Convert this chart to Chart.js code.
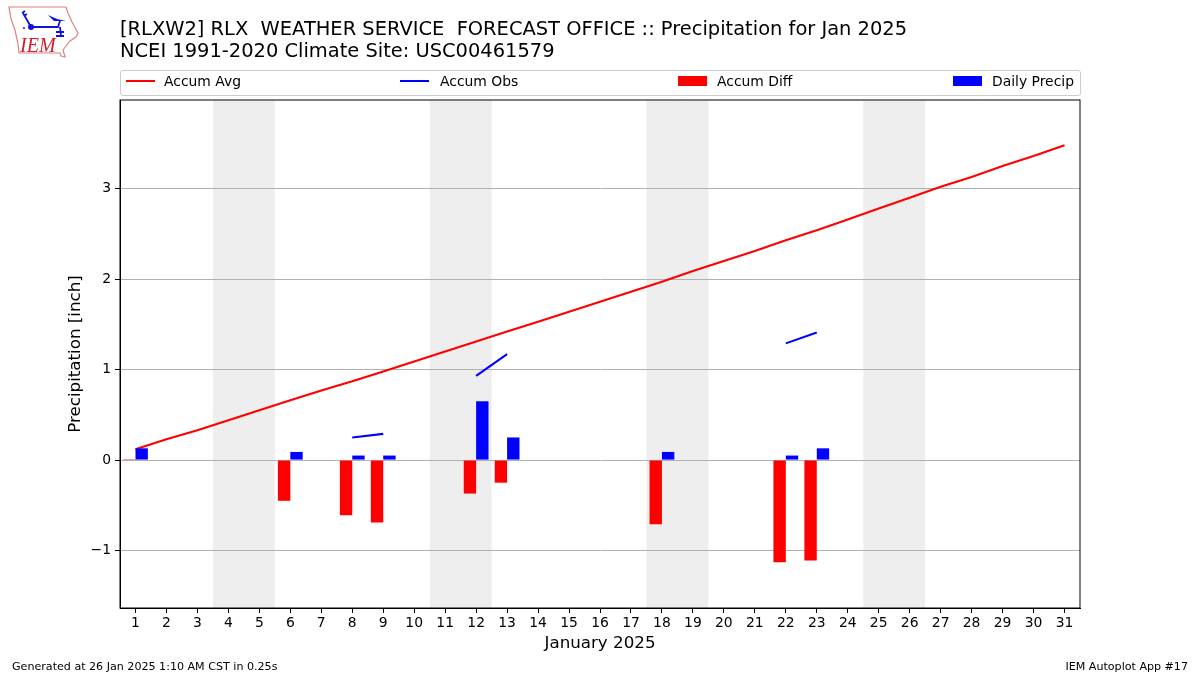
<!DOCTYPE html>
<html>
<head>
<meta charset="utf-8">
<script src="https://cdn.jsdelivr.net/npm/chart.js@4"></script>
<style>
body{margin:0;background:#fff;font-family:"DejaVu Sans",sans-serif;color:#000;}
#wrap{position:relative;width:1200px;height:675px;overflow:hidden;}
#myChart{position:absolute;left:0;top:0;}
.txt{position:absolute;white-space:pre;}
#legend{position:absolute;left:120px;top:70px;width:959px;height:24px;border:1px solid #ccc;border-radius:3px;}
#legend span{position:absolute;}
</style>
</head>
<body>
<div id="wrap">
<canvas id="myChart" width="1200" height="675"></canvas>
<svg style="position:absolute;left:0;top:0" width="90" height="65">
  <path d="M9 7 L66 7 L68 13 L72 22 L78 33 L76 37 L70 41 L66 46 L63 50 L65 57 L61 56 L60 53 L19 53 L18 44 L15 30 L11 19 Z" fill="none" stroke="#e08080" stroke-width="1.2"/>
  <path d="M31 27 L58 27 L60 21 M60 27 L61 36 M23 13 L31 27 M22 13 L25 11 M24 16 L27 14 M56 32 L64 32 M56 36 L64 36" stroke="#1010e0" stroke-width="1.8" fill="none"/>
  <circle cx="31" cy="27" r="3" fill="#1010e0"/>
  <circle cx="24" cy="28" r="1" fill="#1010e0"/>
  <path d="M48 15 L57 19 L66 21 L54 21 Z" fill="#1010e0"/>
  <text x="20" y="52" font-family="Liberation Serif" font-style="italic" font-size="20" fill="#d02030">IEM</text>
</svg>
<div class="txt" style="left:120px;top:18px;font-size:19.44px;line-height:21.5px;">[RLXW2] RLX  WEATHER SERVICE  FORECAST OFFICE :: Precipitation for Jan 2025
NCEI 1991-2020 Climate Site: USC00461579</div>
<div id="legend"></div>
<div class="txt" style="left:12px;top:660px;font-size:11.1px;">Generated at 26 Jan 2025 1:10 AM CST in 0.25s</div>
<div class="txt" style="right:12px;top:660px;font-size:11.1px;">IEM Autoplot App #17</div>
</div>
<script>
let dias=["1","2","3","4","5","6","7","8","9","10","11","12","13","14","15","16","17","18","19","20","21","22","23","24","25","26","27","28","29","30","31"];

let accumAvg=[0.12,0.23,0.33,0.44,0.55,0.66,0.77,0.87,0.98,1.09,1.20,1.31,1.42,1.53,1.64,1.75,1.86,1.97,2.09,2.20,2.31,2.43,2.54,2.66,2.78,2.90,3.02,3.13,3.25,3.36,3.48];
let accumObs=[0.12,null,null,null,null,0.20,null,0.25,0.29,null,null,0.93,1.17,null,null,null,null,1.24,null,null,null,1.29,1.41,null,null,null,null,null,null,null,null];
let accumDiff=[0.01,null,null,null,null,-0.45,null,-0.61,-0.69,null,null,-0.37,-0.25,null,null,null,null,-0.71,null,null,null,-1.13,-1.11,null,null,null,null,null,null,null,null];
let dailyPrecip=[0.13,null,null,null,null,0.09,null,0.05,0.05,null,null,0.65,0.25,null,null,null,null,0.09,null,null,null,0.05,0.13,null,null,null,null,null,null,null,null];

let yTicks=[-1,0,1,2,3];
// fines de semana, primer y ultimo dia
let weekends=[[4,5],[11,12],[18,19],[25,26]];

// sombreado de fines de semana, debajo de la rejilla
let sombras={
    id:'sombras',
    beforeDraw(chart){
        let c=chart.ctx, x=chart.scales.x, a=chart.chartArea;
        c.save();
        c.fillStyle='#eeeeee';
        for (let w of weekends){
            let x0=x.getPixelForValue(w[0]-1.5);
            let x1=x.getPixelForValue(w[1]-0.5);
            c.fillRect(x0,a.top,x1-x0,a.bottom-a.top);
        }
        c.restore();
    }
};

// marco negro completo
let marco={
    id:'marco',
    afterDraw(chart){
        let c=chart.ctx, a=chart.chartArea;
        c.save();
        c.strokeStyle='#000';
        c.lineWidth=1;
        c.strokeRect(a.left,a.top,a.right-a.left,a.bottom-a.top);
        c.restore();
    }
};

let grafica=new Chart("myChart",{
    type:'bar',
    data:{
        labels:dias,
        datasets:[
            {type:'line',label:'Accum Avg',data:accumAvg,borderColor:'#ff0000',backgroundColor:'#ff0000',borderWidth:2.1,pointRadius:0,tension:0,order:2},
            {type:'line',label:'Accum Obs',data:accumObs,borderColor:'#0000ff',backgroundColor:'#0000ff',borderWidth:2.1,pointRadius:0,tension:0,spanGaps:false,order:2},
            {label:'Accum Diff',data:accumDiff,backgroundColor:'#ff0000',categoryPercentage:0.8,barPercentage:1,order:1},
            {label:'Daily Precip',data:dailyPrecip,backgroundColor:'#0000ff',categoryPercentage:0.8,barPercentage:1,order:1}
        ]
    },
    options:{
        responsive:false,
        animation:false,
        layout:{padding:{top:100,right:120,bottom:21,left:66}},
        plugins:{legend:{display:false},title:{display:false},tooltip:{enabled:false}},
        scales:{
            x:{
                afterFit(s){s.height=46;},
                grid:{offset:false,color:'rgba(0,0,0,0)',tickColor:'#000',tickLength:5,drawOnChartArea:false},
                border:{color:'#000'},
                ticks:{autoSkip:false,maxRotation:0,color:'#000',font:{family:'DejaVu Sans',size:13.9},padding:2},
                title:{display:true,text:'January 2025',color:'#000',font:{family:'DejaVu Sans',size:16.7},padding:{top:2,bottom:0}}
            },
            y:{
                min:-1.635,
                max:3.98,
                afterFit(s){s.width=54;},
                afterBuildTicks(s){s.ticks=yTicks.map(v=>({value:v}));},
                grid:{color:'#b0b0b0',tickColor:'#000',tickLength:5,lineWidth:1},
                border:{color:'#000'},
                ticks:{color:'#000',font:{family:'DejaVu Sans',size:13.9},padding:4,
                    callback:v=>String(v).replace('-','\u2212')},
                title:{display:true,text:'Precipitation [inch]',color:'#000',font:{family:'DejaVu Sans',size:16.7},padding:{top:0,bottom:0}}
            }
        }
    },
    plugins:[sombras,marco]
});

// leyenda a lo ancho, como la original
let legend=document.getElementById("legend");
let posiciones=[[5,43,true],[279,319,true],[557,596,false],[832,871,false]];
grafica.data.datasets.forEach((d,i)=>{
    let p=posiciones[i];
    let alto=p[2]?2:10;
    legend.innerHTML+=`<span style="left:${p[0]}px;top:${10-Math.floor(alto/2)}px;width:29px;height:${alto}px;background:${d.backgroundColor}"></span>`;
    legend.innerHTML+=`<span style="left:${p[1]}px;top:1px;font-size:13.9px;line-height:19px">${d.label}</span>`;
});
</script>
</body>
</html>
